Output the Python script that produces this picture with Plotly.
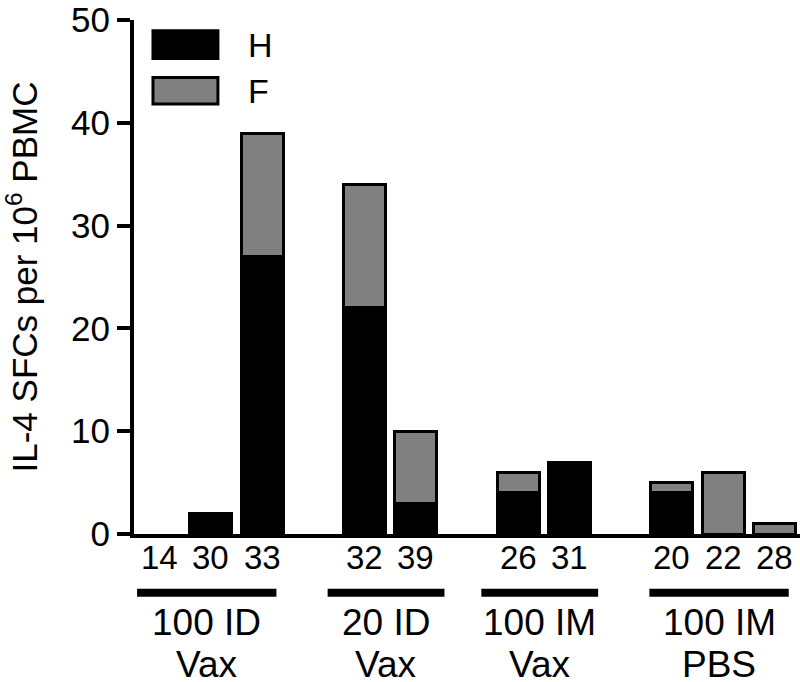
import plotly.graph_objects as go

# mouse IDs, their treatment group, and IL-4 spot counts (H and F stimulation)
mice = ["14", "30", "33", "32", "39", "26", "31", "20", "22", "28"]
mouse_group = [0, 0, 0, 1, 1, 2, 2, 3, 3, 3]
groups = ["100 ID<br>Vax", "20 ID<br>Vax", "100 IM<br>Vax", "100 IM<br>PBS"]
h_values = [0, 2, 27, 22, 3, 4, 7, 4, 0, 0]
f_values = [0, 0, 12, 12, 7, 2, 0, 1, 6, 1]
y_ticks = [0, 10, 20, 30, 40, 50]

FONT = "Liberation Sans, Arial, sans-serif"
GRAY = "#808080"

# one empty slot between groups
slots = [i + g for i, g in enumerate(mouse_group)]


def nz(vals):
    return [v if v else None for v in vals]


fig = go.Figure()
fig.add_trace(go.Bar(x=slots, y=nz(h_values), name="H", width=0.82,
                     marker=dict(color="black", line=dict(color="black", width=3))))
fig.add_trace(go.Bar(x=slots, y=nz(f_values), name="F", width=0.82,
                     marker=dict(color=GRAY, line=dict(color="black", width=3))))

# mouse IDs under each bar
for s, m in zip(slots, mice):
    fig.add_annotation(x=s, y=-0.0462, xref="x", yref="paper", text=m,
                       showarrow=False, yanchor="middle", xanchor="center",
                       font=dict(size=33, color="black", family=FONT))

# group underlines and two-line labels
for g, label in enumerate(groups):
    gs = [s for s, mg in zip(slots, mouse_group) if mg == g]
    center = sum(gs) / len(gs) - 0.08
    half = 0.7 + 0.22 * len(gs)
    fig.add_shape(type="line", xref="x", yref="paper",
                  x0=center - half, x1=center + half, y0=-0.1144, y1=-0.1144,
                  line=dict(color="black", width=8))
    for k, part in enumerate(label.split("<br>")):
        fig.add_annotation(x=center, y=-0.1731 - 0.0807 * k, xref="x", yref="paper",
                           text=part, showarrow=False, yanchor="middle", xanchor="center",
                           font=dict(size=37, color="black", family=FONT))

# legend drawn by hand
legend_items = [("H", "black", 0.979, 0.925), ("F", GRAY, 0.888, 0.8365)]
for name, color, y1, y0 in legend_items:
    fig.add_shape(type="rect", xref="paper", yref="paper",
                  x0=0.0285, x1=0.126, y0=y0, y1=y1,
                  fillcolor=color, line=dict(color="black", width=3))
    fig.add_annotation(x=0.168, y=(y0 + y1) / 2, xref="paper", yref="paper",
                       text=name, showarrow=False, xanchor="left", yanchor="middle",
                       font=dict(size=34, color="black", family=FONT))

fig.update_layout(
    width=800, height=682,
    barmode="stack",
    showlegend=False,
    plot_bgcolor="white", paper_bgcolor="white",
    margin=dict(l=134, r=0, t=14, b=148),
    font=dict(family=FONT, color="black"),
)
fig.update_xaxes(range=[-0.5, 12.5], showticklabels=False,
                 showline=True, linecolor="black", linewidth=4,
                 ticks="", showgrid=False, zeroline=False)
fig.update_yaxes(range=[0, 50], tickvals=y_ticks,
                 showline=True, linecolor="black", linewidth=4,
                 ticks="outside", ticklen=13, tickwidth=4, tickcolor="black",
                 showgrid=False, zeroline=False, ticklabeloverflow="allow",
                 tickfont=dict(size=35, color="black"),
                 title=dict(text="IL-4 SFCs per 10<sup>6</sup> PBMC",
                            font=dict(size=35, color="black"), standoff=31))

fig.write_html("out.html", config={"displayModeBar": False},
               post_script="document.body.style.margin='0';")
